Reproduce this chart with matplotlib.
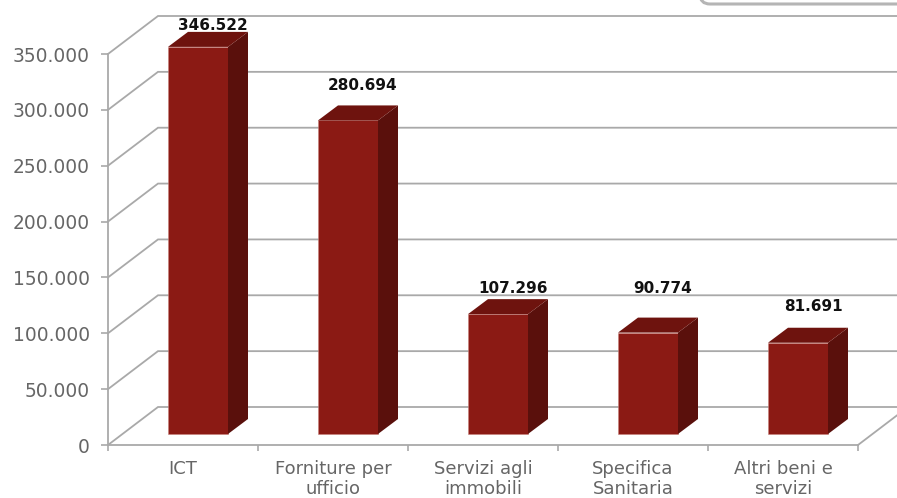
import matplotlib
matplotlib.use("Agg")
import matplotlib.pyplot as plt
from matplotlib.patches import FancyBboxPatch
from matplotlib.transforms import IdentityTransform

# Data
categories = ["ICT", "Forniture per\nufficio", "Servizi agli\nimmobili",
              "Specifica\nSanitaria", "Altri beni e\nservizi"]
values = [346522, 280694, 107296, 90774, 81691]
value_labels = ["346.522", "280.694", "107.296", "90.774", "81.691"]
y_ticks = [0, 50000, 100000, 150000, 200000, 250000, 300000, 350000]

# Style
GRID = "#a9a9a9"
TEXT = "#666666"
FRONT = "#8b1a14"
SIDE = "#5a100c"
TOP = "#6e130e"

W, H = 897, 498
PX_X = 150.0               # pixels per category
PX_Y = 391.0 / 350000      # pixels per unit

fig = plt.figure(figsize=(W / 100, H / 100), dpi=100)
ax = fig.add_axes([108 / W, (H - 445) / H, 750 / W, 391 / H])
ax.set_xlim(0, 5)
ax.set_ylim(0, 350000)
ax.patch.set_alpha(0)

# 3D wall offset, then bar depth and lift off the floor
wall_dx, wall_dy = 50 / PX_X, 38 / PX_Y
bar_dx, bar_dy = 20 / PX_X, 15 / PX_Y
lift = 11 / PX_Y
bar_left, bar_w = 0.4, 0.4

# gridlines on the side and back walls
xmax = 5 + wall_dx
for t in y_ticks:
    ax.plot([0, wall_dx, xmax], [t, t + wall_dy, t + wall_dy],
            color=GRID, lw=1.3, clip_on=False, zorder=1, solid_joinstyle="miter")
# floor edge on the right
ax.plot([5, 5 + wall_dx], [0, wall_dy], color=GRID, lw=1.3, clip_on=False, zorder=1)

# bars: front from ax.bar, side and top faces as polygons
label_gap = [6, 20, 11, 29, 21]   # labels sit unevenly above the bars
for i, v in enumerate(values):
    x0 = i + bar_left
    x1 = x0 + bar_w
    y1 = v + lift
    ax.bar(x0, v, width=bar_w, bottom=lift, align="edge", color=FRONT,
           edgecolor="#c9837c", linewidth=0.4, zorder=3, clip_on=False)
    ax.fill([x1, x1 + bar_dx, x1 + bar_dx, x1],
            [lift, lift + bar_dy, y1 + bar_dy, y1],
            color=SIDE, lw=0, zorder=3, clip_on=False)
    ax.fill([x0, x0 + bar_dx, x1 + bar_dx, x1],
            [y1, y1 + bar_dy, y1 + bar_dy, y1],
            color=TOP, lw=0, zorder=3, clip_on=False)
    ax.annotate(value_labels[i], (x0 + bar_w / 2 + bar_dx * 0.75, y1 + bar_dy),
                xytext=(0, label_gap[i] * 0.72), textcoords="offset points",
                ha="center", va="center",
                fontsize=11, fontweight="bold", color="#111111",
                annotation_clip=False, zorder=5)

# axes and ticks
for s in ["top", "right"]:
    ax.spines[s].set_visible(False)
for s in ["left", "bottom"]:
    ax.spines[s].set_color(GRID)
    ax.spines[s].set_linewidth(1.3)
    ax.spines[s].set_zorder(2)

ax.set_yticks(y_ticks)
ax.set_yticklabels([f"{t:,}".replace(",", ".") for t in y_ticks])
ax.tick_params(axis="y", length=5, width=1.2, color=GRID, labelcolor=TEXT,
               labelsize=13.4, pad=8)
ax.set_xticks(range(6))
ax.set_xticklabels([])
ax.tick_params(axis="x", which="major", length=4, width=1.2, color=GRID)
ax.set_xticks([i + 0.5 for i in range(5)], minor=True)
ax.set_xticklabels(categories, minor=True, linespacing=1.12)
ax.tick_params(axis="x", which="minor", length=0, labelcolor=TEXT,
               labelsize=13, pad=11)

# corner of the box cut off at the top right of the slide
fig.add_artist(FancyBboxPatch((700, H - 4), 300, 40,
                              boxstyle="round,pad=0,rounding_size=10",
                              facecolor="white", edgecolor="#b5b5b5",
                              linewidth=2.2, transform=IdentityTransform()))

fig.savefig("out.png", dpi=100)
